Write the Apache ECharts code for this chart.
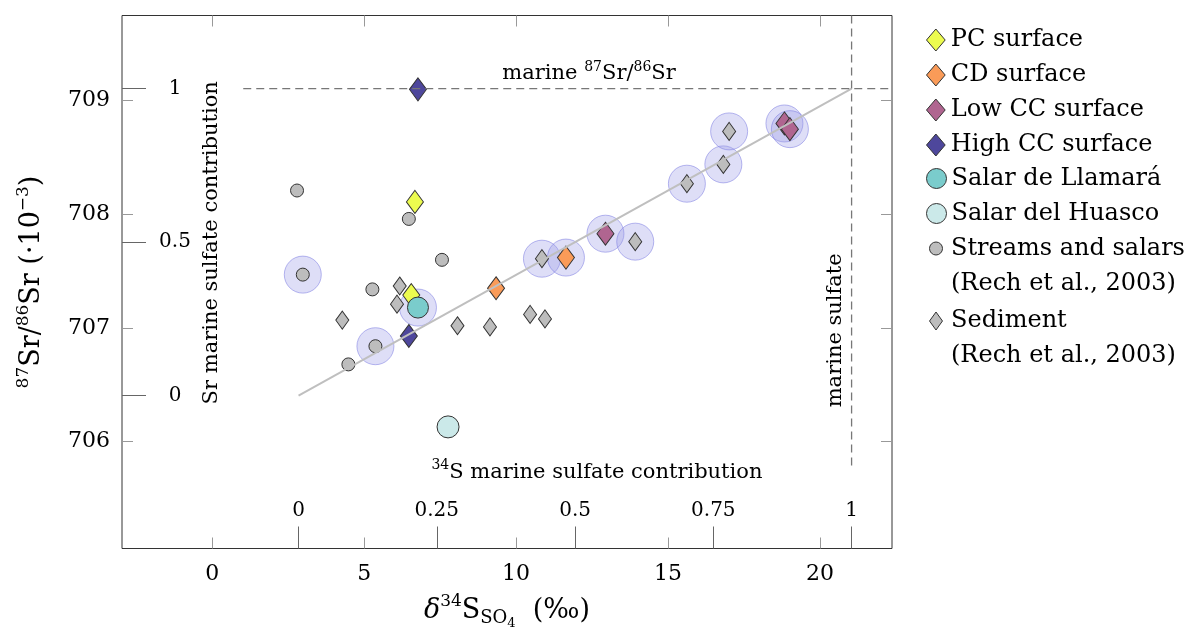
<!DOCTYPE html>
<html><head><meta charset="utf-8">
<script src="https://cdn.jsdelivr.net/npm/echarts@6/dist/echarts.min.js"></script>
<style>html,body{margin:0;padding:0;background:#fff}#c{width:1195px;height:633px}</style>
</head><body><div id="c"></div>
<script>
// ---------- data ----------
const xRange = [-2.97, 22.37];          // δ34S axis range (‰)
const yRange = [705.06, 709.75];        // 87Sr/86Sr (·10^-3) axis range
const xTicks = [0, 5, 10, 15, 20];
const yTicks = [706, 707, 708, 709];
const sEnds = [2.84, 21.04];            // δ34S at 0 and 1 marine sulfate contribution
const srEnds = [706.405, 709.107];      // 87Sr/86Sr at 0 and 1 marine contribution
const fracTicksX = [0, 0.25, 0.5, 0.75, 1];
const fracTicksY = [0, 0.5, 1];

const pcSurface = [[6.67, 708.11], [6.55, 707.29]];
const cdSurface = [[9.34, 707.35], [11.64, 707.62]];
const lowCC = [[12.94, 707.83], [18.83, 708.80], [19.01, 708.75]];
const highCC = [[6.77, 709.10], [6.47, 706.93]];
const llamara = [[6.77, 707.18]];
const huasco = [[7.76, 706.13]];
const streams = [[2.79, 708.21], [6.47, 707.96], [7.56, 707.60], [2.98, 707.47], [5.27, 707.34], [5.37, 706.84], [4.48, 706.68]];
const sediment = [[6.17, 707.37], [6.08, 707.21], [4.28, 707.07], [8.07, 707.02], [9.14, 707.01], [10.46, 707.12], [10.95, 707.08],
                  [10.85, 707.61], [13.92, 707.76], [15.62, 708.27], [16.82, 708.44], [17.01, 708.73]];
const highlighted = [[2.98, 707.47], [5.37, 706.84], [6.77, 707.18], [10.85, 707.61], [11.64, 707.62], [12.94, 707.83],
                     [13.92, 707.76], [15.62, 708.27], [16.82, 708.44], [17.01, 708.73], [18.83, 708.80], [19.01, 708.75]];
const marineSrDash = [[1.02, srEnds[1]], [xRange[1], srEnds[1]]];
const marineSDash = [[sEnds[1], yRange[1]], [sEnds[1], 705.77]];

// ---------- styling ----------
const F = 'DejaVu Serif';
const frac = (v, a, b) => (v - a) / (b - a);
const dPath = 'path://M0,-10L8.5,0L0,10L-8.5,0Z';
const mk = {borderColor: '#333', borderWidth: 1, opacity: 1};
const supR = {fontFamily: F, fontSize: 14, lineHeight: 14, verticalAlign: 'top', color: '#000'};
const txtR = {fontFamily: F, fontSize: 21, lineHeight: 27, color: '#000'};

const annotations = [
  {value: [12.4, 709.24], rotate: 0, text: '{t|marine }{s|87}{t|Sr/}{s|86}{t|Sr}'},
  {value: [-0.03, 707.75], rotate: 90, text: '{t|Sr marine sulfate contribution}'},
  {value: [12.66, 705.73], rotate: 0, text: '{s|34}{t|S marine sulfate contribution}'},
  {value: [20.5, 706.98], rotate: 90, text: '{t|marine sulfate}'}
];

const noLine = {show: false, onZero: false};
const mainTick = {show: true, inside: true, length: 11, lineStyle: {color: '#999', width: 1}};
const legendBase = {
  orient: 'vertical', left: 926, itemGap: 0, itemWidth: 20, padding: 0, selectedMode: false,
  textStyle: {fontFamily: F, fontSize: 24, color: '#000', lineHeight: 35},
  itemStyle: {borderColor: '#333', borderWidth: 1, opacity: 1}
};
const nameRich = {
  b: {fontFamily: F, fontSize: 27, lineHeight: 34, color: '#000'},
  i: {fontFamily: F, fontSize: 27, lineHeight: 34, fontStyle: 'italic', color: '#000'},
  s: {fontFamily: F, fontSize: 17, lineHeight: 17, verticalAlign: 'top', color: '#000'},
  u: {fontFamily: F, fontSize: 18, lineHeight: 18, verticalAlign: 'bottom', color: '#000'},
  u2: {fontFamily: F, fontSize: 13, lineHeight: 13, verticalAlign: 'bottom', color: '#000', padding: [0, 0, -3, 0]}
};

const option = {
  animation: false,
  backgroundColor: '#fff',
  grid: {left: 122, top: 15.5, width: 770, height: 533, show: true, borderColor: '#333', borderWidth: 1,
         backgroundColor: 'transparent', outerBoundsMode: 'none', containLabel: false},
  xAxis: [
    {type: 'value', position: 'bottom', min: xRange[0], max: xRange[1],
     axisLine: noLine, splitLine: {show: false},
     axisTick: Object.assign({customValues: xTicks}, mainTick),
     axisLabel: {customValues: xTicks, fontFamily: F, fontSize: 22, color: '#000', margin: 15},
     name: '{i|δ}{s|34}{b|S}{u|SO}{u2|4}{b|  (‰)}', nameLocation: 'middle', nameGap: 45,
     nameTextStyle: {fontFamily: F, fontSize: 27, color: '#000', rich: nameRich}},
    {type: 'value', position: 'top', min: xRange[0], max: xRange[1],
     axisLine: noLine, splitLine: {show: false}, axisLabel: {show: false},
     axisTick: Object.assign({customValues: xTicks}, mainTick)},
    {type: 'value', position: 'bottom', min: frac(xRange[0], sEnds[0], sEnds[1]), max: frac(xRange[1], sEnds[0], sEnds[1]),
     axisLine: noLine, splitLine: {show: false},
     axisTick: {show: true, inside: true, length: 22, customValues: fracTicksX, lineStyle: {color: '#666', width: 1}},
     axisLabel: {customValues: fracTicksX, inside: true, margin: 28, fontFamily: F, fontSize: 20, color: '#000'}}
  ],
  yAxis: [
    {type: 'value', position: 'left', min: yRange[0], max: yRange[1],
     axisLine: noLine, splitLine: {show: false},
     axisTick: Object.assign({customValues: yTicks}, mainTick),
     axisLabel: {customValues: yTicks, fontFamily: F, fontSize: 22, color: '#000', margin: 12},
     name: '{s|87}{b|Sr/}{s|86}{b|Sr (·10}{s|−3}{b|)}', nameLocation: 'middle', nameGap: 73, nameRotate: 90,
     nameTextStyle: {fontFamily: F, fontSize: 27, color: '#000', rich: nameRich}},
    {type: 'value', position: 'right', min: yRange[0], max: yRange[1],
     axisLine: noLine, splitLine: {show: false}, axisLabel: {show: false},
     axisTick: Object.assign({customValues: yTicks}, mainTick)},
    {type: 'value', position: 'left', min: frac(yRange[0], srEnds[0], srEnds[1]), max: frac(yRange[1], srEnds[0], srEnds[1]),
     axisLine: noLine, splitLine: {show: false},
     axisTick: {show: true, inside: true, length: 24, customValues: fracTicksY, lineStyle: {color: '#666', width: 1}},
     axisLabel: {customValues: fracTicksY, inside: true, margin: 53, align: 'center', fontFamily: F, fontSize: 20, color: '#000'}}
  ],
  legend: [
    Object.assign({}, legendBase, {top: 22.5, itemHeight: 22, data: [
      {name: 'PC surface', icon: dPath}, {name: 'CD surface', icon: dPath},
      {name: 'Low CC surface', icon: dPath}, {name: 'High CC surface', icon: dPath}]}),
    Object.assign({}, legendBase, {top: 161, itemHeight: 21, data: [
      {name: 'Salar de Llamará', icon: 'circle'}, {name: 'Salar del Huasco', icon: 'circle'}]}),
    Object.assign({}, legendBase, {top: 231, itemHeight: 13, data: [
      {name: 'Streams and salars', icon: 'circle'}, {name: '(Rech et al., 2003)', icon: 'none'}]}),
    Object.assign({}, legendBase, {top: 303.5, itemHeight: 18, data: [
      {name: 'Sediment', icon: 'path://M0,-10L7.2,0L0,10L-7.2,0Z'}, {name: '(Rech et al., 2003) ', icon: 'none'}]})
  ],
  series: [
    {type: 'line', name: 'mixing', data: [[sEnds[0], srEnds[0]], [sEnds[1], srEnds[1]]], symbol: 'none', silent: true,
     lineStyle: {color: '#bfbfbf', width: 2}},
    {type: 'line', name: 'marineSr', data: marineSrDash, symbol: 'none', silent: true,
     lineStyle: {color: '#777', width: 1.3, type: [8, 5]}},
    {type: 'line', name: 'marineS', data: marineSDash, symbol: 'none', silent: true,
     lineStyle: {color: '#777', width: 1.3, type: [8, 5]}},
    {type: 'scatter', name: 'highlight', data: highlighted, symbol: 'circle', symbolSize: 37, silent: true,
     itemStyle: {color: 'rgba(155,155,230,0.33)', borderColor: 'rgba(125,125,225,0.55)', borderWidth: 1, opacity: 1}},
    {type: 'scatter', name: 'Streams and salars', data: streams, symbol: 'circle', symbolSize: 13,
     itemStyle: Object.assign({color: '#bdbdbd'}, mk)},
    {type: 'scatter', name: '(Rech et al., 2003)', data: [], itemStyle: {color: '#fff'}},
    {type: 'scatter', name: 'Sediment', data: sediment, symbol: 'diamond', symbolSize: [13, 18],
     itemStyle: Object.assign({color: '#bdbdbd'}, mk)},
    {type: 'scatter', name: '(Rech et al., 2003) ', data: [], itemStyle: {color: '#fff'}},
    {type: 'scatter', name: 'PC surface', data: pcSurface, symbol: 'diamond', symbolSize: [17, 23],
     itemStyle: Object.assign({color: '#ecfb4f'}, mk)},
    {type: 'scatter', name: 'CD surface', data: cdSurface, symbol: 'diamond', symbolSize: [17, 23],
     itemStyle: Object.assign({color: '#fa9b58'}, mk)},
    {type: 'scatter', name: 'Low CC surface', data: lowCC, symbol: 'diamond', symbolSize: [17, 23],
     itemStyle: Object.assign({color: '#b06590'}, mk)},
    {type: 'scatter', name: 'High CC surface', data: highCC, symbol: 'diamond', symbolSize: [17, 23],
     itemStyle: Object.assign({color: '#4e479c'}, mk)},
    {type: 'scatter', name: 'Salar de Llamará', data: llamara, symbol: 'circle', symbolSize: 21,
     itemStyle: Object.assign({color: '#7acccc'}, mk)},
    {type: 'scatter', name: 'Salar del Huasco', data: huasco, symbol: 'circle', symbolSize: 22,
     itemStyle: Object.assign({color: '#cbe9e9'}, mk)},
    {type: 'scatter', name: 'annotations', silent: true, symbolSize: 1,
     itemStyle: {color: 'rgba(0,0,0,0)', opacity: 1},
     data: annotations.map(a => ({value: a.value, label: {rotate: a.rotate, formatter: a.text}})),
     label: {show: true, position: 'inside', opacity: 1, rich: {t: txtR, s: supR}}}
  ]
};
const chart = echarts.init(document.getElementById('c'), null, {renderer: 'canvas'});
chart.setOption(option);
</script></body></html>
